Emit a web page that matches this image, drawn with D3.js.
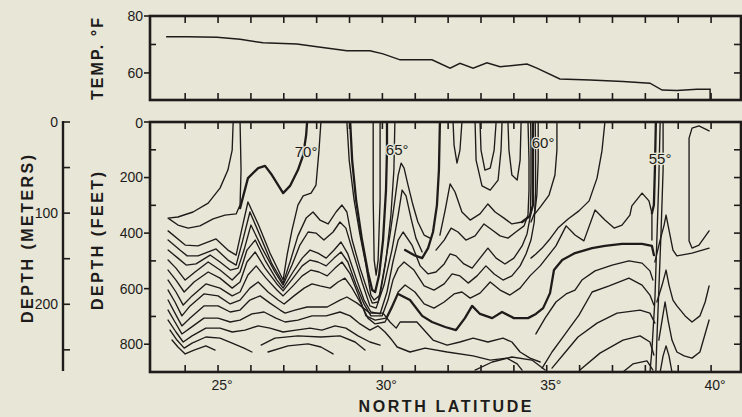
<!DOCTYPE html>
<html><head><meta charset="utf-8">
<script src="https://cdn.jsdelivr.net/npm/d3@7"></script>
<style>html,body{margin:0;padding:0;background:#e8e6d6;} svg{display:block;}</style>
</head><body><svg id="c" width="742" height="417"></svg>
<script>
// ---------- DATA ----------
// surface temperature (top panel)
const tempLat = [23.42,24.06,24.97,25.67,26.37,27.40,28.01,28.92,29.62,30.02,30.54,31.51,32.06,32.36,32.76,33.18,33.58,34.40,34.70,35.40,36.32,37.32,38.14,38.51,38.96,39.57,39.97,39.97];
const tempF   = [72.7,72.7,72.5,71.8,70.6,70.2,69.2,67.8,67.8,66.7,64.6,64.6,61.7,63.4,61.7,63.6,62.2,63.1,61.7,57.9,57.5,57.0,56.4,54.0,53.8,54.3,54.3,50.5];
const tempTicksLabeled = [60, 80];
const tempTicksMinor = [70];
const feetLabeled = [0, 200, 400, 600, 800];
const feetMinor = [100, 300, 500, 700];
const feetRight = [100, 200, 300, 400, 500, 600, 700, 800];
const meterTicks = [0, 50, 100, 150, 200, 250];
const meterLabeled = [0, 100, 200];
const latTicks = [24,25,26,27,28,29,30,31,32,33,34,35,36,37,38,39,40];
const latLabeled = [25, 30, 35, 40];
const isoLabels = [["70°",27.68,108],["65°",30.45,101],["60°",34.89,76],["55°",38.45,133]];

// isotherms: [latitude °N, depth ft]
const isoU = [[25.46,0],[25.43,101],[25.30,173],[25.06,238],[24.70,292],[24.24,324],[23.78,342],[23.48,346],[23.78,371],[24.09,382],[24.45,374],[24.85,349],[25.21,335],[25.55,331],[25.67,299],[25.70,173],[25.67,0]];
const iso70 = [[25.67,310],[25.91,202],[26.22,166],[26.43,158],[26.64,191],[26.98,256],[27.19,230],[27.43,173],[27.59,119],[27.68,47],[27.71,0]];
const isoL1 = [[23.48,392],[24.00,443],[24.39,446],[24.94,421],[25.30,461],[25.55,479],[25.73,382],[25.91,288],[26.22,367],[26.58,472],[26.98,569],[27.10,479],[27.25,389],[27.43,299],[27.59,266],[27.83,256],[27.98,227],[28.07,104],[28.13,0]];
const isoL2 = [[23.48,425],[23.84,461],[24.06,482],[24.39,482],[24.94,457],[25.30,497],[25.55,515],[25.73,436],[25.97,324],[26.28,410],[26.64,511],[26.98,580],[27.19,504],[27.43,410],[27.68,346],[27.89,324],[28.10,353],[28.35,367],[28.59,324],[28.77,299],[28.92,324],[29.08,425],[29.32,526],[29.56,612],[29.69,652],[29.87,648],[30.05,533],[30.23,407],[30.38,281],[30.48,191],[30.57,148],[30.66,166],[30.78,227],[30.93,299],[31.08,360],[31.27,407],[31.45,418]];
const iso65b = [[30.69,461],[30.96,479],[31.21,490],[31.39,454],[31.54,396],[31.66,299],[31.72,173],[31.75,0]];
const isoL3 = [[23.48,461],[23.78,490],[24.03,515],[24.33,511],[24.76,479],[25.06,504],[25.37,533],[25.61,526],[25.79,461],[26.00,371],[26.34,454],[26.73,540],[26.98,587],[27.25,515],[27.49,443],[27.74,396],[27.98,400],[28.22,425],[28.50,396],[28.71,360],[28.89,382],[29.14,482],[29.38,576],[29.62,662],[29.81,670],[30.05,587],[30.29,461],[30.48,335],[30.60,245],[30.72,266],[30.87,346],[31.02,418],[31.21,468]];
const isoL4 = [[23.48,497],[23.72,526],[24.00,569],[24.30,540],[24.70,504],[25.06,533],[25.43,569],[25.67,540],[25.88,461],[26.13,425],[26.43,497],[26.79,569],[26.98,598],[27.28,540],[27.56,490],[27.80,461],[28.04,472],[28.29,490],[28.53,461],[28.74,432],[28.95,475],[29.20,562],[29.44,641],[29.65,684],[29.93,691],[30.14,612],[30.32,504],[30.48,425],[30.63,396],[30.90,443],[31.15,518],[31.39,547],[31.63,540],[31.88,511],[32.06,475],[32.24,482],[32.48,511],[32.73,526],[32.97,490],[33.21,454],[33.46,490],[33.73,511],[34.00,490],[34.25,446],[34.40,403],[34.50,340],[34.52,220],[34.52,90],[34.51,0]];
const isoL5 = [[23.48,533],[23.72,569],[23.97,612],[24.27,576],[24.70,540],[25.06,562],[25.43,598],[25.67,576],[25.88,504],[26.13,468],[26.43,526],[26.79,583],[26.98,608],[27.28,562],[27.56,518],[27.80,497],[28.04,504],[28.29,518],[28.53,490],[28.74,468],[28.95,504],[29.20,587],[29.44,655],[29.65,698],[29.99,698],[30.17,641],[30.32,569],[30.48,526],[30.66,504],[30.96,533],[31.27,590],[31.57,605],[31.88,583],[32.12,547],[32.36,554],[32.61,580],[32.88,554],[33.15,518],[33.40,547],[33.67,569],[33.94,554],[34.19,518],[34.37,475],[34.52,425],[34.62,360],[34.66,250],[34.66,120],[34.65,0]];
const isoL6 = [[23.48,569],[23.72,612],[23.94,659],[24.21,626],[24.63,583],[25.06,598],[25.43,626],[25.67,612],[25.91,551],[26.16,518],[26.46,562],[26.79,605],[26.98,626],[27.28,590],[27.56,554],[27.83,533],[28.07,540],[28.32,554],[28.56,526],[28.77,504],[29.02,547],[29.26,619],[29.50,698],[29.78,713],[30.11,706],[30.29,662],[30.48,612],[30.69,587],[30.99,612],[31.27,655],[31.57,670],[31.88,648],[32.18,619],[32.42,612],[32.67,634],[32.97,616],[33.28,576],[33.58,605],[33.88,623],[34.19,598],[34.49,554],[34.80,518],[35.04,482],[35.28,446],[35.59,374],[35.86,407],[36.13,428],[36.47,317],[36.77,353],[37.05,382],[37.29,371],[37.53,335],[37.59,302],[37.90,256],[38.11,284],[38.20,328],[38.20,425]];
const isoL7 = [[23.48,605],[23.69,648],[23.90,698],[24.15,662],[24.57,619],[25.00,626],[25.37,655],[25.67,641],[25.97,598],[26.22,576],[26.52,612],[26.83,641],[27.01,655],[27.31,626],[27.62,598],[27.86,583],[28.10,590],[28.41,598],[28.65,576],[28.86,562],[29.08,598],[29.32,648],[29.56,706],[29.78,727],[30.08,720],[30.29,670],[30.48,619]];
const iso60b = [[30.48,619],[30.84,641],[31.21,698],[31.51,720],[31.91,738],[32.24,749],[32.51,706],[32.73,662],[32.97,691],[33.34,706],[33.64,684],[34.00,706],[34.43,706],[34.67,691],[34.89,670],[35.10,616],[35.22,533],[35.47,497],[35.86,472],[36.38,454],[36.77,446],[37.29,439],[37.90,439],[38.20,446],[38.26,479]];
const isoL8 = [[23.48,641],[23.69,688],[23.90,734],[24.15,706],[24.57,662],[25.00,662],[25.37,684],[25.67,677],[25.97,641],[26.28,626],[26.58,652],[26.89,677],[27.04,688],[27.34,677],[27.71,666],[28.32,666],[28.71,641],[28.92,630],[29.23,652],[29.62,688],[30.02,688],[30.23,720],[30.42,742],[30.54,720],[31.05,720],[31.54,785],[31.97,803],[32.36,792],[32.76,778],[33.21,792],[33.67,778],[33.94,792],[34.19,828],[34.49,850],[34.80,864]];
const isoL9 = [[23.48,677],[23.69,720],[23.90,763],[24.15,742],[24.57,706],[25.00,706],[25.37,720],[25.67,713],[26.03,691],[26.40,684],[26.76,706],[27.04,720],[27.43,713],[27.86,698],[28.29,698],[28.71,684],[29.02,698],[29.32,727],[29.62,749],[29.87,734],[30.08,756],[30.29,785],[30.45,810],[30.84,828],[31.30,814],[31.97,828],[32.76,842],[33.28,857],[33.79,850],[34.10,871],[34.25,893]];
const isoL10 = [[23.48,713],[23.72,756],[23.94,792],[24.21,770],[24.63,742],[25.06,742],[25.43,756],[25.82,749],[26.22,734],[26.58,742],[26.98,756],[27.37,749],[27.80,742],[28.16,749],[28.56,734],[28.89,742],[29.26,770],[29.62,792],[29.93,803]];
const isoL11 = [[23.54,749],[23.75,785],[23.97,814],[24.21,796],[24.63,774],[25.06,778],[25.43,796],[25.79,814],[26.03,828]];
const isoL12 = [[23.60,785],[23.78,810],[24.00,835],[24.27,821],[24.63,806],[24.91,821]];
const isoB1 = [[26.31,803],[26.73,778],[27.43,770],[28.13,774],[28.71,770],[29.17,792],[29.47,821]];
const isoB2 = [[26.52,828],[27.13,806],[27.74,799],[28.13,810],[28.50,835]];
const isoV3a = [[29.72,0],[29.72,281],[29.75,497],[29.81,551],[29.87,497],[29.93,281],[29.93,0]];
const iso65 = [[29.02,0],[29.08,137],[29.20,281],[29.38,425],[29.56,540],[29.69,605],[29.78,612],[29.90,551],[30.02,425],[30.11,245],[30.14,101],[30.14,0]];
const isoV3c = [[28.92,0],[28.99,137],[29.14,281],[29.32,407],[29.50,515],[29.65,623],[29.75,641],[29.93,623],[30.11,497],[30.26,335],[30.35,173],[30.38,0]];
const isoMa = [[31.75,407],[31.91,317],[32.06,223],[32.21,252],[32.42,324],[32.67,353],[32.97,331],[33.21,295],[33.43,324],[33.70,346],[33.94,367],[34.25,360],[34.49,338]];
const isoMb = [[31.63,461],[31.88,425],[32.09,382],[32.30,396],[32.54,425],[32.82,410],[33.09,367],[33.34,389],[33.58,410],[33.82,418],[34.06,396],[34.31,374],[34.43,335],[34.46,245],[34.46,137],[34.43,0]];
const isoM3 = [[32.82,893],[33.34,864],[33.94,846],[34.55,857],[34.95,893]];
const isoT1 = [[32.15,0],[32.18,83],[32.27,148],[32.36,101],[32.42,0]];
const isoT2 = [[32.97,0],[33.00,101],[33.12,173],[33.28,166],[33.40,101],[33.46,0]];
const isoT3 = [[32.82,0],[32.85,137],[33.03,230],[33.28,245],[33.52,209],[33.61,101],[33.64,0]];
const isoT4 = [[33.82,0],[33.85,101],[33.94,191],[34.10,209],[34.19,137],[34.22,0]];
const iso60 = [[34.58,0],[34.58,65],[34.58,191],[34.58,299],[34.49,338],[34.25,360]];
const isoT60b = [[34.74,0],[34.74,137],[34.70,263],[34.64,324],[34.52,360]];
const isoA0 = [[35.31,0],[35.31,101],[35.25,191],[35.07,263],[34.83,302],[34.64,331]];
const isoA = [[36.77,0],[36.68,104],[36.53,202],[36.29,284],[35.98,320],[35.65,349],[35.34,382],[35.07,425],[34.86,454],[34.67,475],[34.52,490]];
const isoD = [[34.67,763],[34.95,706],[35.28,648],[35.59,619],[35.86,605],[36.07,569],[36.47,536],[36.99,515],[37.50,500],[37.90,508],[38.14,536],[38.23,569]];
const isoE = [[34.86,886],[35.16,828],[35.47,778],[35.74,734],[35.98,695],[36.38,612],[36.90,590],[37.50,562],[37.90,587],[38.14,623],[38.26,659]];
const isoF = [[35.16,886],[35.62,821],[35.95,774],[36.53,724],[37.14,688],[37.84,677],[38.14,688],[38.29,724]];
const isoG = [[36.01,893],[36.62,832],[37.32,785],[37.84,770],[38.14,792],[38.26,839]];
const isoH = [[37.32,900],[37.62,871],[38.05,860],[38.23,893]];
const iso55 = [[38.32,0],[38.29,173],[38.26,299],[38.20,328]];
const isoS2 = [[38.45,0],[38.41,209],[38.35,425],[38.29,641],[38.20,821],[38.14,900]];
const isoS3 = [[38.54,0],[38.54,173],[38.48,389],[38.41,605],[38.35,785],[38.32,900]];
const isoSp1 = [[38.29,504],[38.45,425],[38.57,371],[38.63,335],[38.72,389],[38.84,461],[38.96,482],[39.42,472],[39.94,454]];
const isoSp2 = [[38.35,648],[38.51,587],[38.63,533],[38.72,587],[38.84,641],[38.96,662],[39.21,698],[39.42,720],[39.66,698],[39.82,648],[39.94,590]];
const isoSp3 = [[38.41,785],[38.51,713],[38.60,648],[38.69,713],[38.81,785],[38.96,828],[39.18,842],[39.42,850],[39.66,828],[39.94,713]];
const isoSp4 = [[38.45,900],[38.54,842],[38.63,806],[38.72,842],[38.81,900]];
const isoR = [[39.94,32],[39.63,14],[39.42,22],[39.33,58],[39.33,428],[39.42,454],[39.63,443],[39.94,392]];

const thinLines = [isoU,isoL1,isoL2,isoL3,isoL4,isoL5,isoL6,isoL7,isoL8,isoL9,isoL10,isoL11,isoL12,isoB1,isoB2,
  isoV3a,isoV3c,isoMa,isoMb,isoM3,isoT1,isoT2,isoT3,isoT4,isoT60b,isoA0,isoA,isoD,isoE,isoF,isoG,isoH,
  isoS2,isoS3,isoSp1,isoSp2,isoSp3,isoSp4,isoR];
const boldLines = [iso70, iso65, iso65b, iso60, iso60b, iso55];

// ---------- DRAW ----------
const BG = "#e8e6d6", INK = "#1d1c1a";
const FONT = "'Liberation Sans', Arial, sans-serif";
const svg = d3.select("#c");
svg.append("rect").attr("width",742).attr("height",417).attr("fill",BG);

const x = d3.scaleLinear().domain([22.93, 40.91]).range([150, 741]);
const yT = d3.scaleLinear().domain([50.5, 80]).range([100, 16]);
const yF = d3.scaleLinear().domain([0, 900]).range([122, 372]);
const yM = d3.scaleLinear().domain([0, 900*0.3048]).range([122, 372]);

const X0 = 150, X1 = 741;

svg.append("clipPath").attr("id","sec").append("rect").attr("x",X0).attr("y",122).attr("width",X1-X0).attr("height",250);

const gl = svg.append("g").attr("clip-path","url(#sec)");
const line = d3.line().x(d=>x(d[0])).y(d=>yF(d[1]));
gl.selectAll("path.thin").data(thinLines).join("path").attr("class","thin")
  .attr("d",line).attr("fill","none").attr("stroke",INK).attr("stroke-width",1.35)
  .attr("stroke-linejoin","round").attr("stroke-linecap","round");
gl.selectAll("path.bold").data(boldLines).join("path").attr("class","bold")
  .attr("d",line).attr("fill","none").attr("stroke",INK).attr("stroke-width",2.3)
  .attr("stroke-linejoin","round").attr("stroke-linecap","round");

// temp line
const tLine = d3.line().x((d,i)=>x(tempLat[i])).y((d,i)=>yT(tempF[i]));
svg.append("path").attr("d",tLine(tempLat)).attr("fill","none").attr("stroke",INK).attr("stroke-width",1.5);

// isotherm labels
svg.selectAll("text.iso").data(isoLabels).join("text").attr("class","iso")
  .attr("x",d=>x(d[1])).attr("y",d=>yF(d[2])).attr("dy","0.35em")
  .attr("text-anchor","middle").attr("font-family",FONT).attr("font-size",15)
  .attr("fill",INK).attr("stroke",BG).attr("stroke-width",2.5).attr("paint-order","stroke")
  .text(d=>d[0]);

// frames
[[16,100],[122,372]].forEach(([a,b])=>{
  svg.append("rect").attr("x",X0).attr("y",a).attr("width",X1-X0).attr("height",b-a)
    .attr("fill","none").attr("stroke",INK).attr("stroke-width",2.6);
});

const tk = svg.append("g").attr("stroke",INK).attr("stroke-width",1.6);
[[16,1],[100,-1],[122,1],[372,-1]].forEach(([yy,dir])=>{
  latTicks.forEach(v=>{
    tk.append("line").attr("x1",x(v)).attr("x2",x(v)).attr("y1",yy).attr("y2",yy+dir*7);
  });
});
tempTicksLabeled.forEach(v=>{ tk.append("line").attr("x1",X0-6).attr("x2",X0).attr("y1",yT(v)).attr("y2",yT(v)); });
tempTicksMinor.forEach(v=>{ tk.append("line").attr("x1",X0).attr("x2",X0+6).attr("y1",yT(v)).attr("y2",yT(v)); });
[60,70].forEach(v=>{ tk.append("line").attr("x1",X1-7).attr("x2",X1).attr("y1",yT(v)).attr("y2",yT(v)); });
feetLabeled.forEach(v=>{ tk.append("line").attr("x1",X0-6).attr("x2",X0).attr("y1",yF(v)).attr("y2",yF(v)); });
feetMinor.forEach(v=>{ tk.append("line").attr("x1",X0).attr("x2",X0+6).attr("y1",yF(v)).attr("y2",yF(v)); });
feetRight.forEach(v=>{ tk.append("line").attr("x1",X1-7).attr("x2",X1).attr("y1",yF(v)).attr("y2",yF(v)); });
const MX = 63;
tk.append("line").attr("x1",MX).attr("x2",MX).attr("y1",yM(0)-1).attr("y2",371).attr("stroke-width",2.4);
meterTicks.forEach(v=>{ tk.append("line").attr("x1",MX).attr("x2",MX+7).attr("y1",yM(v)).attr("y2",yM(v)); });

const lab = svg.append("g").attr("font-family",FONT).attr("font-size",14).attr("fill",INK);
tempTicksLabeled.forEach(v=>lab.append("text").attr("x",143).attr("y",yT(v)).attr("dy","0.35em").attr("text-anchor","end").text(v));
feetLabeled.forEach(v=>lab.append("text").attr("x",143).attr("y",yF(v)+(v===0?1:0)).attr("dy","0.35em").attr("text-anchor","end").text(v));
meterLabeled.forEach(v=>lab.append("text").attr("x",58).attr("y",yM(v)).attr("dy","0.35em").attr("text-anchor","end").text(v));
latLabeled.forEach(v=>lab.append("text").attr("x",x(v)+4).attr("y",390).attr("text-anchor","middle").text(v+"°"));

const tt = svg.append("g").attr("font-family",FONT).attr("font-weight","bold").attr("font-size",16).attr("fill",INK);
tt.append("text").attr("transform","translate(103,59) rotate(-90)").attr("text-anchor","middle")
  .attr("textLength",82).attr("lengthAdjust","spacing").text("TEMP. °F");
tt.append("text").attr("transform","translate(103,241) rotate(-90)").attr("text-anchor","middle")
  .attr("textLength",138).attr("lengthAdjust","spacing").text("DEPTH (FEET)");
tt.append("text").attr("transform","translate(33,239) rotate(-90)").attr("text-anchor","middle")
  .attr("textLength",168).attr("lengthAdjust","spacing").text("DEPTH (METERS)");
tt.append("text").attr("x",445).attr("y",412).attr("text-anchor","middle")
  .attr("textLength",173).attr("lengthAdjust","spacing").text("NORTH LATITUDE");
</script></body></html>
